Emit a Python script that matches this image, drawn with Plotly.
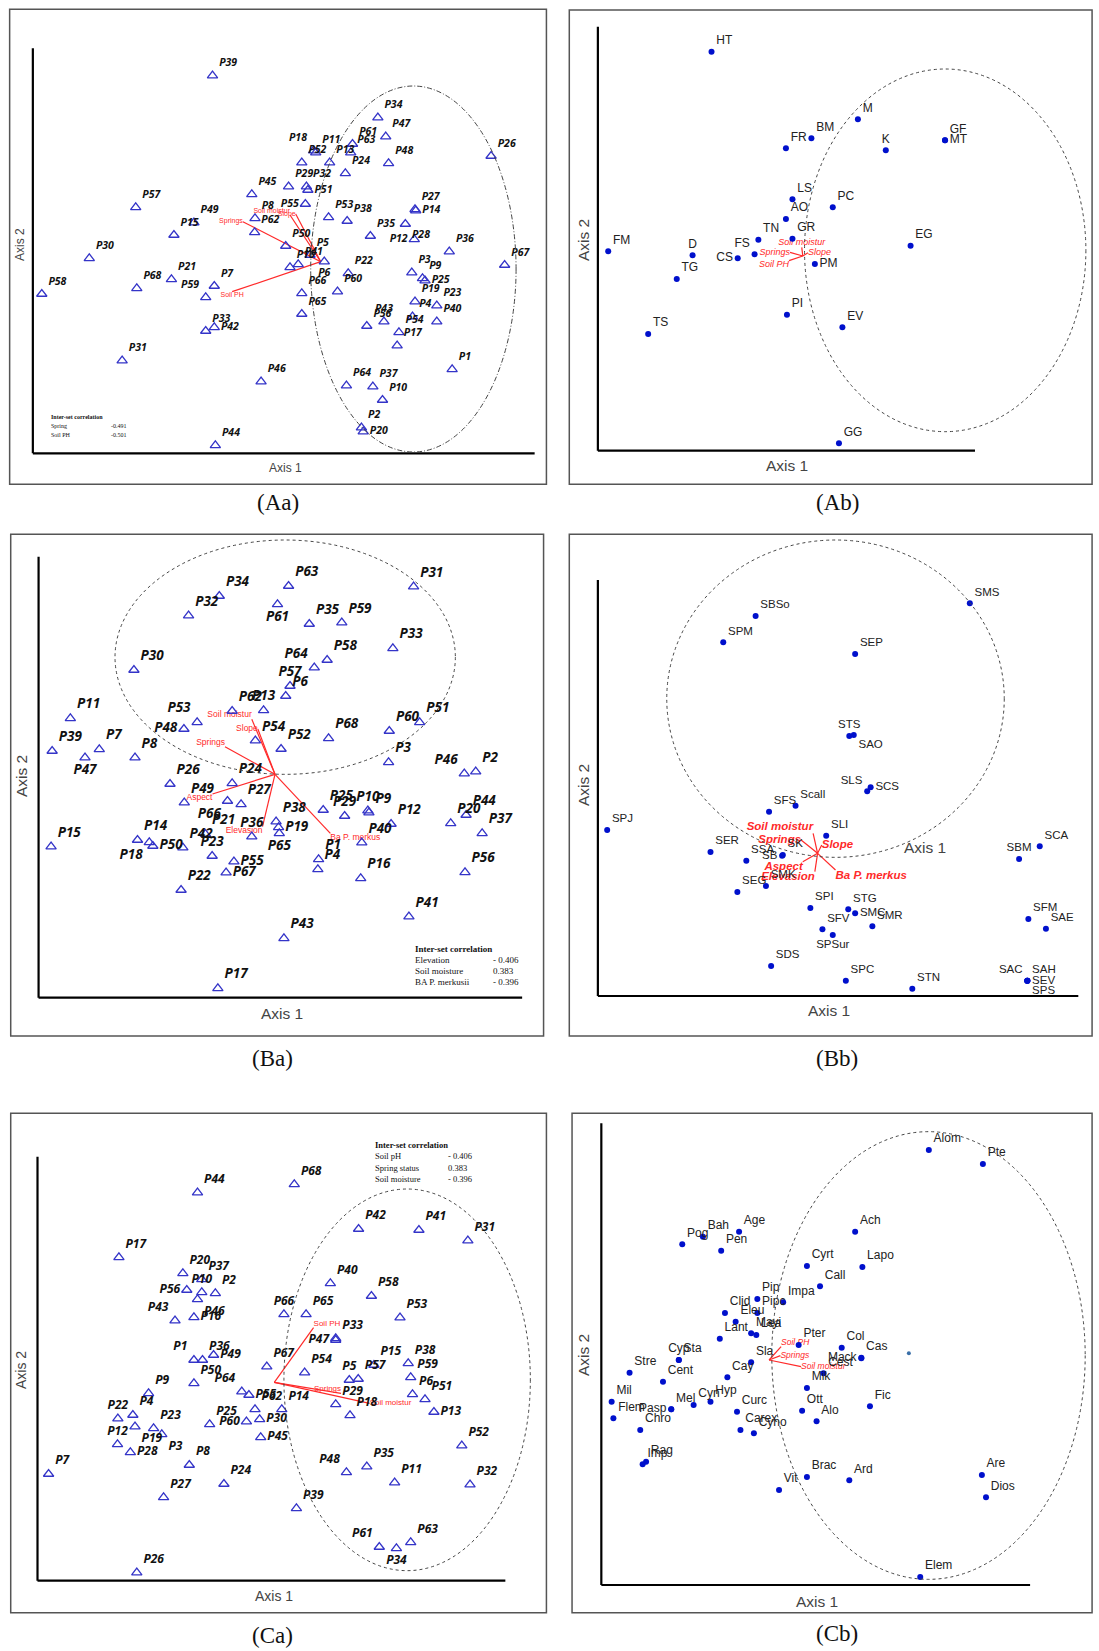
import plotly.graph_objects as go

W, H = 1099, 1651

SIDE = {"tr": "top right", "tl": "top left", "tc": "top center", "mr": "middle right",
        "ml": "middle left", "bc": "bottom center", "bl": "bottom left", "br": "bottom right"}

# ---------------- (Aa) plot scores ----------------
aa_sites = ["P39", "P34", "P47", "P61", "P63", "P18", "P11", "P52", "P13", "P24", "P48", "P26",
            "P45", "P29", "P32", "P51", "P55", "P57", "P49", "P15", "P8", "P62", "P53", "P38",
            "P27", "P14", "P28", "P35", "P12", "P36", "P67", "P50", "P5", "P41", "P16", "P6",
            "P30", "P58", "P68", "P21", "P7", "P59", "P33", "P42", "P31", "P46", "P44", "P66",
            "P65", "P60", "P22", "P3", "P9", "P25", "P19", "P23", "P4", "P54", "P17", "P40",
            "P43", "P56", "P1", "P64", "P37", "P10", "P2", "P20"]
aa_axis1 = [595, 1058, 1080, 987, 982, 878, 884, 845, 923, 967, 1088, 1375, 705, 808, 858, 862,
            855, 380, 543, 487, 714, 713, 920, 972, 1162, 1164, 1135, 1037, 1160, 1258, 1413, 800,
            868, 835, 812, 908, 250, 117, 383, 480, 600, 576, 576, 600, 342, 731, 603, 845, 845,
            945, 975, 1153, 1183, 1190, 1162, 1223, 1155, 1117, 1112, 1223, 1075, 1027, 1266, 970,
            1044, 1071, 1012, 1017]
aa_axis2 = [227, 353, 410, 432, 458, 452, 458, 488, 488, 520, 490, 468, 583, 560, 560, 570, 612,
            622, 668, 705, 655, 697, 652, 663, 628, 632, 672, 708, 718, 755, 795, 738, 765, 793,
            802, 785, 775, 882, 865, 838, 858, 892, 993, 982, 1082, 1145, 1336, 880, 942, 875, 820,
            818, 835, 842, 905, 917, 950, 997, 1037, 965, 965, 978, 1108, 1157, 1160, 1200, 1283,
            1295]
aa_vectors = ["Springs", "Soil moistur", "Slope", "Soil PH"]
aa_vec_axis1 = [680, 812, 828, 650]
aa_vec_axis2 = [665, 645, 642, 875]
aa_origin = (898, 785)
aa_corr_vars = ["Spring", "Soil PH"]
aa_corr_vals = ["-0.491", "-0.501"]

# ---------------- (Ab) species scores ----------------
ab_species = ["HT", "M", "BM", "FR", "K", "GF", "MT", "LS", "PC", "AO", "TN", "GR", "FS", "CS",
              "D", "FM", "TG", "PM", "EG", "PI", "EV", "TS", "GG"]
ab_axis1 = [440, 865, 730, 656, 946, 1118, 1118, 675, 792, 656, 576, 675, 565, 516, 385, 140,
            339, 740, 1018, 659, 820, 256, 810]
ab_axis2 = [155, 358, 415, 445, 451, 421, 421, 598, 622, 657, 719, 716, 763, 775, 766, 754, 837,
            792, 737, 944, 982, 1002, 1330]
ab_vectors = ["Springs", "Soil PH", "Soil moistur", "Slope"]
ab_vec_axis1 = [668, 665, 702, 720]
ab_vec_axis2 = [757, 782, 742, 758]
ab_origin = (705, 768)

# ---------------- (Ba) plot scores ----------------
ba_sites = ["P63", "P31", "P34", "P32", "P61", "P35", "P59", "P33", "P30", "P58", "P64", "P57",
            "P6", "P13", "P62", "P51", "P60", "P68", "P53", "P48", "P54", "P52", "P11", "P39",
            "P7", "P47", "P8", "P3", "P46", "P2", "P26", "P24", "P49", "P27", "P66", "P25", "P10",
            "P9", "P29", "P12", "P38", "P19", "P65", "P21", "P42", "P14", "P18", "P50", "P36",
            "P23", "P55", "P67", "P1", "P4", "P40", "P16", "P20", "P44", "P37", "P56", "P15",
            "P22", "P41", "P43", "P17"]
ba_axis1 = [808, 1158, 614, 528, 777, 866, 957, 1100, 375, 916, 880, 812, 800, 738, 650, 1175,
            1090, 920, 552, 515, 715, 787, 197, 146, 278, 238, 378, 1088, 1300, 1332, 476, 650,
            516, 675, 637, 905, 1030, 1033, 965, 1095, 773, 780, 782, 575, 512, 385, 418, 428, 705,
            594, 655, 633, 892, 890, 1013, 1010, 1262, 1305, 1350, 1302, 143, 507, 1145, 795, 610]
ba_axis2 = [183, 185, 213, 272, 238, 297, 293, 370, 435, 405, 428, 483, 513, 556, 558, 592, 618,
            640, 592, 612, 647, 672, 580, 678, 673, 698, 698, 712, 746, 740, 777, 775, 833, 838,
            828, 855, 857, 863, 873, 897, 890, 907, 925, 927, 968, 945, 952, 963, 935, 993, 1010,
            1043, 1003, 1033, 953, 1060, 895, 870, 925, 1042, 965, 1095, 1175, 1240, 1390]
ba_vectors = ["Soil moistur", "Slope", "Springs", "Aspect", "Elevasion", "Ba P. merkus"]
ba_vec_axis1 = [705, 722, 630, 595, 735, 925]
ba_vec_axis2 = [583, 612, 665, 807, 905, 925]
ba_origin = (770, 748)
ba_corr_vars = ["Elevation", "Soil moisture", "BA P. merkusii"]
ba_corr_vals = ["- 0.406", "0.383", "- 0.396"]

# ---------------- (Bb) species scores ----------------
bb_species = ["SMS", "SBSo", "SPM", "SEP", "STS", "SAO", "SLS", "SCS", "SFS", "Scall", "SPJ",
              "SLI", "SER", "SSA", "SK", "SB", "SMK", "SEG", "SPI", "STG", "SMC", "SMR", "SFV",
              "SPSur", "SDS", "SPC", "STN", "SBM", "SCA", "SFM", "SAE", "SAC", "SAH", "SEV", "SPS"]
bb_axis1 = [1190, 568, 474, 857, 840, 853, 892, 902, 607, 684, 137, 773, 437, 541, 647, 645, 598,
            515, 727, 837, 857, 907, 762, 792, 613, 830, 1023, 1333, 1393, 1360, 1411, 1357, 1357,
            1357, 1357]
bb_axis2 = [235, 273, 352, 387, 633, 630, 799, 787, 860, 842, 915, 932, 981, 1007, 990, 992, 1083,
            1101, 1149, 1153, 1165, 1204, 1213, 1230, 1323, 1367, 1391, 1002, 964, 1182, 1211,
            1367, 1367, 1367, 1367]
bb_vectors = ["Soil moistur", "Springs", "Slope", "Aspect", "Elevasion", "Ba P. merkus"]
bb_vec_axis1 = [735, 700, 760, 705, 740, 800]
bb_vec_axis2 = [925, 945, 960, 1010, 1040, 1035]
bb_origin = (748, 985)

# ---------------- (Ca) plot scores ----------------
ca_sites = ["P44", "P68", "P42", "P41", "P31", "P17", "P20", "P37", "P56", "P10", "P2", "P46",
            "P43", "P16", "P40", "P58", "P53", "P66", "P65", "P33", "P47", "P1", "P36", "P49",
            "P67", "P54", "P50", "P64", "P55", "P9", "P5", "P57", "P15", "P38", "P59", "P6", "P51",
            "P13", "P29", "P18", "P14", "P62", "P30", "P60", "P45", "P25", "P22", "P4", "P23",
            "P19", "P3", "P12", "P28", "P7", "P8", "P24", "P27", "P26", "P39", "P48", "P35", "P11",
            "P52", "P32", "P61", "P34", "P63"]
ca_axis1 = [553, 824, 1004, 1173, 1310, 333, 512, 565, 523, 565, 603, 553, 490, 543, 925, 1040,
            1120, 795, 857, 940, 940, 543, 567, 598, 747, 853, 543, 677, 697, 416, 978, 1003, 1047,
            1143, 1150, 1155, 1190, 1215, 940, 980, 789, 714, 727, 690, 730, 587, 330, 372, 430,
            378, 453, 329, 365, 136, 530, 627, 458, 383, 830, 970, 1027, 1105, 1293, 1316, 1062,
            1110, 1150]
ca_axis2 = [323, 298, 432, 435, 467, 517, 565, 583, 615, 622, 625, 643, 707, 697, 595, 633, 698,
            688, 688, 760, 765, 825, 825, 810, 845, 863, 895, 920, 930, 925, 885, 882, 840, 835,
            877, 928, 943, 981, 958, 991, 973, 973, 1003, 1010, 1057, 1018, 1001, 990, 1030, 1025,
            1048, 1078, 1102, 1167, 1140, 1197, 1237, 1463, 1270, 1162, 1145, 1193, 1082, 1199,
            1386, 1390, 1372]
ca_vectors = ["Soil PH", "Springs", "Soil moistur"]
ca_vec_axis1 = [878, 955, 1035]
ca_vec_axis2 = [728, 925, 955]
ca_origin = (768, 892)
ca_corr_vars = ["Soil pH", "Spring status", "Soil moisture"]
ca_corr_vals = ["- 0.406", "0.383", "- 0.396"]

# ---------------- (Cb) species scores ----------------
cb_species = ["Alom", "Pte", "Age", "Ach", "Bah", "Pog", "Pen", "Cyrt", "Lapo", "Call", "Pip",
              "Impa", "Pipc", "Clid", "Eleu", "Mayi", "Lea", "Lant", "Pter", "Col", "Cas", "Mack",
              "Cest", "Sla", "Cyp", "Sta", "Stre", "Cent", "Cay", "Mil", "Flem", "Pasp", "Mel",
              "Cyn", "Hyp", "Curc", "Carex", "Cyno", "Chro", "Mik", "Ott", "Alo", "Fic", "Rag",
              "Imp", "Vit", "Brac", "Ard", "Are", "Dios", "Elem"]
cb_axis1 = [1071, 1228, 520, 857, 415, 355, 468, 717, 878, 755, 573, 648, 573, 479, 510, 555, 570,
            464, 693, 818, 875, 875, 765, 555, 345, 345, 202, 299, 486, 150, 155, 323, 323, 388,
            437, 514, 524, 563, 233, 717, 703, 745, 900, 250, 240, 636, 717, 840, 1225, 1237, 1046]
cb_axis2 = [195, 237, 440, 440, 455, 478, 497, 543, 546, 604, 642, 652, 684, 684, 710, 745, 750,
            761, 780, 788, 818, 820, 865, 832, 825, 825, 863, 890, 877, 950, 1000, 973, 973, 960,
            950, 980, 1035, 1045, 1035, 909, 977, 1009, 964, 1130, 1138, 1215, 1176, 1186, 1170,
            1237, 1476]
cb_vectors = ["Soil PH", "Springs", "Soil moistur"]
cb_vec_axis1 = [642, 640, 700]
cb_vec_axis2 = [785, 812, 845]
cb_origin = (607, 825)
cb_centroid = ([1013], [805])

# ---------------- label placement (style) ----------------
LABEL_SIDE = {
    "Aa": {"P18": "tl", "P51": "mr", "P55": "ml", "P14": "mr", "P28": "br", "P12": "ml",
           "P6": "bc", "P59": "tl", "P42": "mr", "P25": "mr", "P43": "tc", "P20": "mr"},
    "Ab": {"K": "tc", "MT": "mr", "FS": "tl", "CS": "ml", "D": "tc", "PM": "mr"},
    "Ba": {"P61": "bc", "P64": "tl", "P57": "tc", "P13": "tc", "P53": "tl", "P48": "ml",
           "P47": "bc", "P46": "tl", "P66": "bl", "P10": "tc", "P29": "tc", "P19": "mr",
           "P65": "bc", "P18": "bl", "P50": "mr", "P36": "tc", "P23": "tc", "P55": "mr",
           "P67": "mr"},
    "Bb": {"STS": "tc", "SAO": "br", "SLS": "tl", "SCS": "mr", "SB": "ml", "SMC": "mr",
           "SPSur": "bc", "SBM": "tc", "SAC": "tl", "SEV": "mr", "SPS": "br"},
    "Ca": {"P56": "ml", "P10": "tc", "P46": "br", "P43": "tl", "P16": "mr", "P66": "tc",
           "P47": "ml", "P1": "tl", "P49": "mr", "P64": "tl", "P55": "mr", "P5": "tc",
           "P13": "mr", "P30": "mr", "P60": "ml", "P45": "mr", "P22": "tc", "P19": "br",
           "P3": "br", "P12": "tc", "P28": "mr", "P48": "tl", "P61": "tl", "P34": "bc"},
    "Cb": {"Mack": "ml", "Cyp": "tc", "Pasp": "ml"},
}
VECTOR_SIDE = {
    "Aa": ["ml", "tl", "ml", "bc"],
    "Ab": ["ml", "bl", "tc", "mr"],
    "Ba": ["tl", "ml", "tl", "bl", "bl", "br"],
    "Bb": ["tl", "ml", "mr", "bl", "bl", "br"],
    "Ca": ["tr", "tl", "mr"],
    "Cb": ["tr", "mr", "mr"],
}

# Panel geometry: column offset (px), score units per px (x), row top (px),
# frame box / axis lines / ellipse in score units
Y_UNITS_PER_PX = 3.0
PANELS = [
    dict(name="Aa", col=0, xu=2.8, row=0, frame=(27, 1530, 28, 1453), axes=(92, 1497, 145, 1360),
         ellipse=(870, 1445, 258, 1356), dash="5px,2px,1px,2px", kind="site", font=10.5,
         data=(aa_sites, aa_axis1, aa_axis2), vec=(aa_vectors, aa_vec_axis1, aa_vec_axis2, aa_origin),
         vfont=dict(size=7, style="normal", weight="normal")),
    dict(name="Ab", col=560, xu=1568 / 540, row=0, frame=(27, 1545, 30, 1453),
         axes=(110, 1205, 80, 1352), ellipse=(710, 1527, 207, 1295), dash="dot", kind="species",
         font=12, data=(ab_species, ab_axis1, ab_axis2),
         vec=(ab_vectors, ab_vec_axis1, ab_vec_axis2, ab_origin),
         vfont=dict(size=9, style="italic", weight="normal")),
    dict(name="Ba", col=0, xu=2.8, row=525, frame=(30, 1522, 28, 1533), axes=(108, 1462, 95, 1418),
         ellipse=(322, 1275, 45, 748), dash="dot", kind="site", font=13.5,
         data=(ba_sites, ba_axis1, ba_axis2), vec=(ba_vectors, ba_vec_axis1, ba_vec_axis2, ba_origin),
         vfont=dict(size=8.5, style="normal", weight="normal")),
    dict(name="Bb", col=560, xu=1568 / 540, row=525, frame=(27, 1545, 28, 1533),
         axes=(110, 1505, 165, 1413), ellipse=(310, 1290, 45, 997), dash="dot", kind="species",
         font=11.5, data=(bb_species, bb_axis1, bb_axis2),
         vec=(bb_vectors, bb_vec_axis1, bb_vec_axis2, bb_origin),
         vfont=dict(size=11.5, style="italic", weight="bold")),
    dict(name="Ca", col=0, xu=2.8, row=1085, frame=(30, 1530, 85, 1583), axes=(105, 1415, 215, 1487),
         ellipse=(795, 1485, 312, 1457), dash="dot", kind="site", font=12,
         data=(ca_sites, ca_axis1, ca_axis2), vec=(ca_vectors, ca_vec_axis1, ca_vec_axis2, ca_origin),
         vfont=dict(size=8, style="normal", weight="normal")),
    dict(name="Cb", col=560, xu=1568 / 540, row=1085, frame=(35, 1545, 85, 1583),
         axes=(120, 1365, 115, 1500), ellipse=(615, 1525, 140, 1483), dash="dot", kind="species",
         font=12, data=(cb_species, cb_axis1, cb_axis2),
         vec=(cb_vectors, cb_vec_axis1, cb_vec_axis2, cb_origin),
         vfont=dict(size=8.5, style="italic", weight="normal")),
]

RED = "#ff2a2a"
BLUE_TRI = "#3434c8"
BLUE_DOT = "#0010cc"

fig = go.Figure()
layout = dict(width=W, height=H, margin=dict(l=0, r=0, t=0, b=0), paper_bgcolor="white",
              plot_bgcolor="white", showlegend=False)
shapes, annotations = [], []


def px_ann(x, y, text, size, family="Liberation Sans", color="#444", angle=0,
           xanchor="center", weight="normal"):
    annotations.append(dict(x=x / W, y=1 - y / H, xref="paper", yref="paper", text=text,
                            showarrow=False, textangle=angle, xanchor=xanchor, yanchor="middle",
                            font=dict(family=family, size=size, color=color, weight=weight)))


for i, p in enumerate(PANELS, start=1):
    sfx = "" if i == 1 else str(i)
    fx0, fx1, fy0, fy1 = p["frame"]
    xdom = [(p["col"] + fx0 / p["xu"]) / W, (p["col"] + fx1 / p["xu"]) / W]
    ydom = [1 - (p["row"] + fy1 / Y_UNITS_PER_PX) / H, 1 - (p["row"] + fy0 / Y_UNITS_PER_PX) / H]
    layout["xaxis" + sfx] = dict(domain=xdom, range=[fx0, fx1], visible=False, fixedrange=True,
                                 anchor="y" + sfx)
    layout["yaxis" + sfx] = dict(domain=ydom, range=[fy1, fy0], visible=False, fixedrange=True,
                                 anchor="x" + sfx)
    xa, ya = "x" + sfx, "y" + sfx

    # panel frame
    shapes.append(dict(type="rect", xref=xa + " domain", yref=ya + " domain", x0=0, x1=1, y0=0,
                       y1=1, line=dict(color="#555555", width=1.5)))
    # L-shaped ordination axes
    ax0, ax1, ay0, ay1 = p["axes"]
    shapes.append(dict(type="line", xref=xa, yref=ya, x0=ax0, x1=ax0, y0=ay0, y1=ay1,
                       line=dict(color="black", width=2.2)))
    shapes.append(dict(type="line", xref=xa, yref=ya, x0=ax0, x1=ax1, y0=ay1, y1=ay1,
                       line=dict(color="black", width=2.2)))
    # group ellipse
    ex0, ex1, ey0, ey1 = p["ellipse"]
    shapes.append(dict(type="circle", xref=xa, yref=ya, x0=ex0, x1=ex1, y0=ey0, y1=ey1,
                       line=dict(color="#444444", width=1, dash=p["dash"])))

    # environmental vectors
    names, vx, vy, origin = p["vec"]
    lx, ly = [], []
    for a, b in zip(vx, vy):
        lx += [origin[0], a, None]
        ly += [origin[1], b, None]
    fig.add_trace(go.Scatter(x=lx, y=ly, mode="lines", line=dict(color=RED, width=1.2),
                             xaxis=xa, yaxis=ya, hoverinfo="skip", cliponaxis=False))
    fig.add_trace(go.Scatter(x=vx, y=vy, mode="text", text=names,
                             textposition=[SIDE[s] for s in VECTOR_SIDE[p["name"]]],
                             textfont=dict(family="Liberation Sans", color=RED, **p["vfont"]),
                             xaxis=xa, yaxis=ya, hoverinfo="skip", cliponaxis=False))

    # plots / species
    labels, sx, sy = p["data"]
    sides = [SIDE[LABEL_SIDE[p["name"]].get(t, "tr")] for t in labels]
    if p["kind"] == "site":
        marker = dict(symbol="triangle-up-open", size=9, color=BLUE_TRI,
                      line=dict(color=BLUE_TRI, width=1.3))
        tfont = dict(family="Open Sans", size=p["font"], color="#111111", weight="bold",
                     style="italic")
    else:
        marker = dict(symbol="circle", size=6, color=BLUE_DOT)
        tfont = dict(family="Liberation Sans", size=p["font"], color="#222222")
    fig.add_trace(go.Scatter(x=sx, y=sy, mode="markers+text", text=labels, textposition=sides,
                             marker=marker, textfont=tfont, xaxis=xa, yaxis=ya,
                             cliponaxis=False, hoverinfo="text"))
    if p["name"] == "Cb":
        fig.add_trace(go.Scatter(x=cb_centroid[0], y=cb_centroid[1], mode="markers",
                                 marker=dict(size=4, color="#3a6fa8"), xaxis=xa, yaxis=ya,
                                 hoverinfo="skip"))

# axis titles (px positions)
axis_titles = [
    ("Aa", (285, 468), (20, 245), 12),
    ("Ab", (787, 466), (583, 240), 15.5),
    ("Ba", (282, 1013), (21, 776), 15.5),
    ("Bb", (829, 1010), (583, 785), 15.5),
    ("Ca", (274, 1596), (21, 1370), 14),
    ("Cb", (817, 1601), (583, 1355), 15.5),
]
for _, a1, a2, fs in axis_titles:
    px_ann(a1[0], a1[1], "Axis 1", fs)
    px_ann(a2[0], a2[1], "Axis 2", fs, angle=-90)
px_ann(925, 847, "Axis 1", 15.5)

# panel captions
for text, (cx, cy) in [("(Aa)", (278, 503)), ("(Ab)", (837, 503)), ("(Ba)", (272, 1058)),
                       ("(Bb)", (837, 1058)), ("(Ca)", (272, 1635)), ("(Cb)", (837, 1633))]:
    px_ann(cx, cy, text, 23, family="Liberation Serif", color="#111111")


# inter-set correlation tables
def corr_table(x, xv, y0, dy, size, rows, vals):
    px_ann(x, y0, "Inter-set correlation", size, family="Liberation Serif", color="#111111",
           xanchor="left", weight="bold")
    for k, (r, v) in enumerate(zip(rows, vals), start=1):
        px_ann(x, y0 + k * dy, r, size, family="Liberation Serif", color="#111111", xanchor="left")
        px_ann(xv, y0 + k * dy, v, size, family="Liberation Serif", color="#111111",
               xanchor="left")


corr_table(49, 109, 417, 9, 6, aa_corr_vars, aa_corr_vals)
corr_table(413, 491, 949, 11, 9, ba_corr_vars, ba_corr_vals)
corr_table(373, 446, 1145, 11.3, 8.5, ca_corr_vars, ca_corr_vals)

layout["shapes"] = shapes
layout["annotations"] = annotations
fig.update_layout(**layout)
fig.write_html("out.html", config={"displayModeBar": False})
